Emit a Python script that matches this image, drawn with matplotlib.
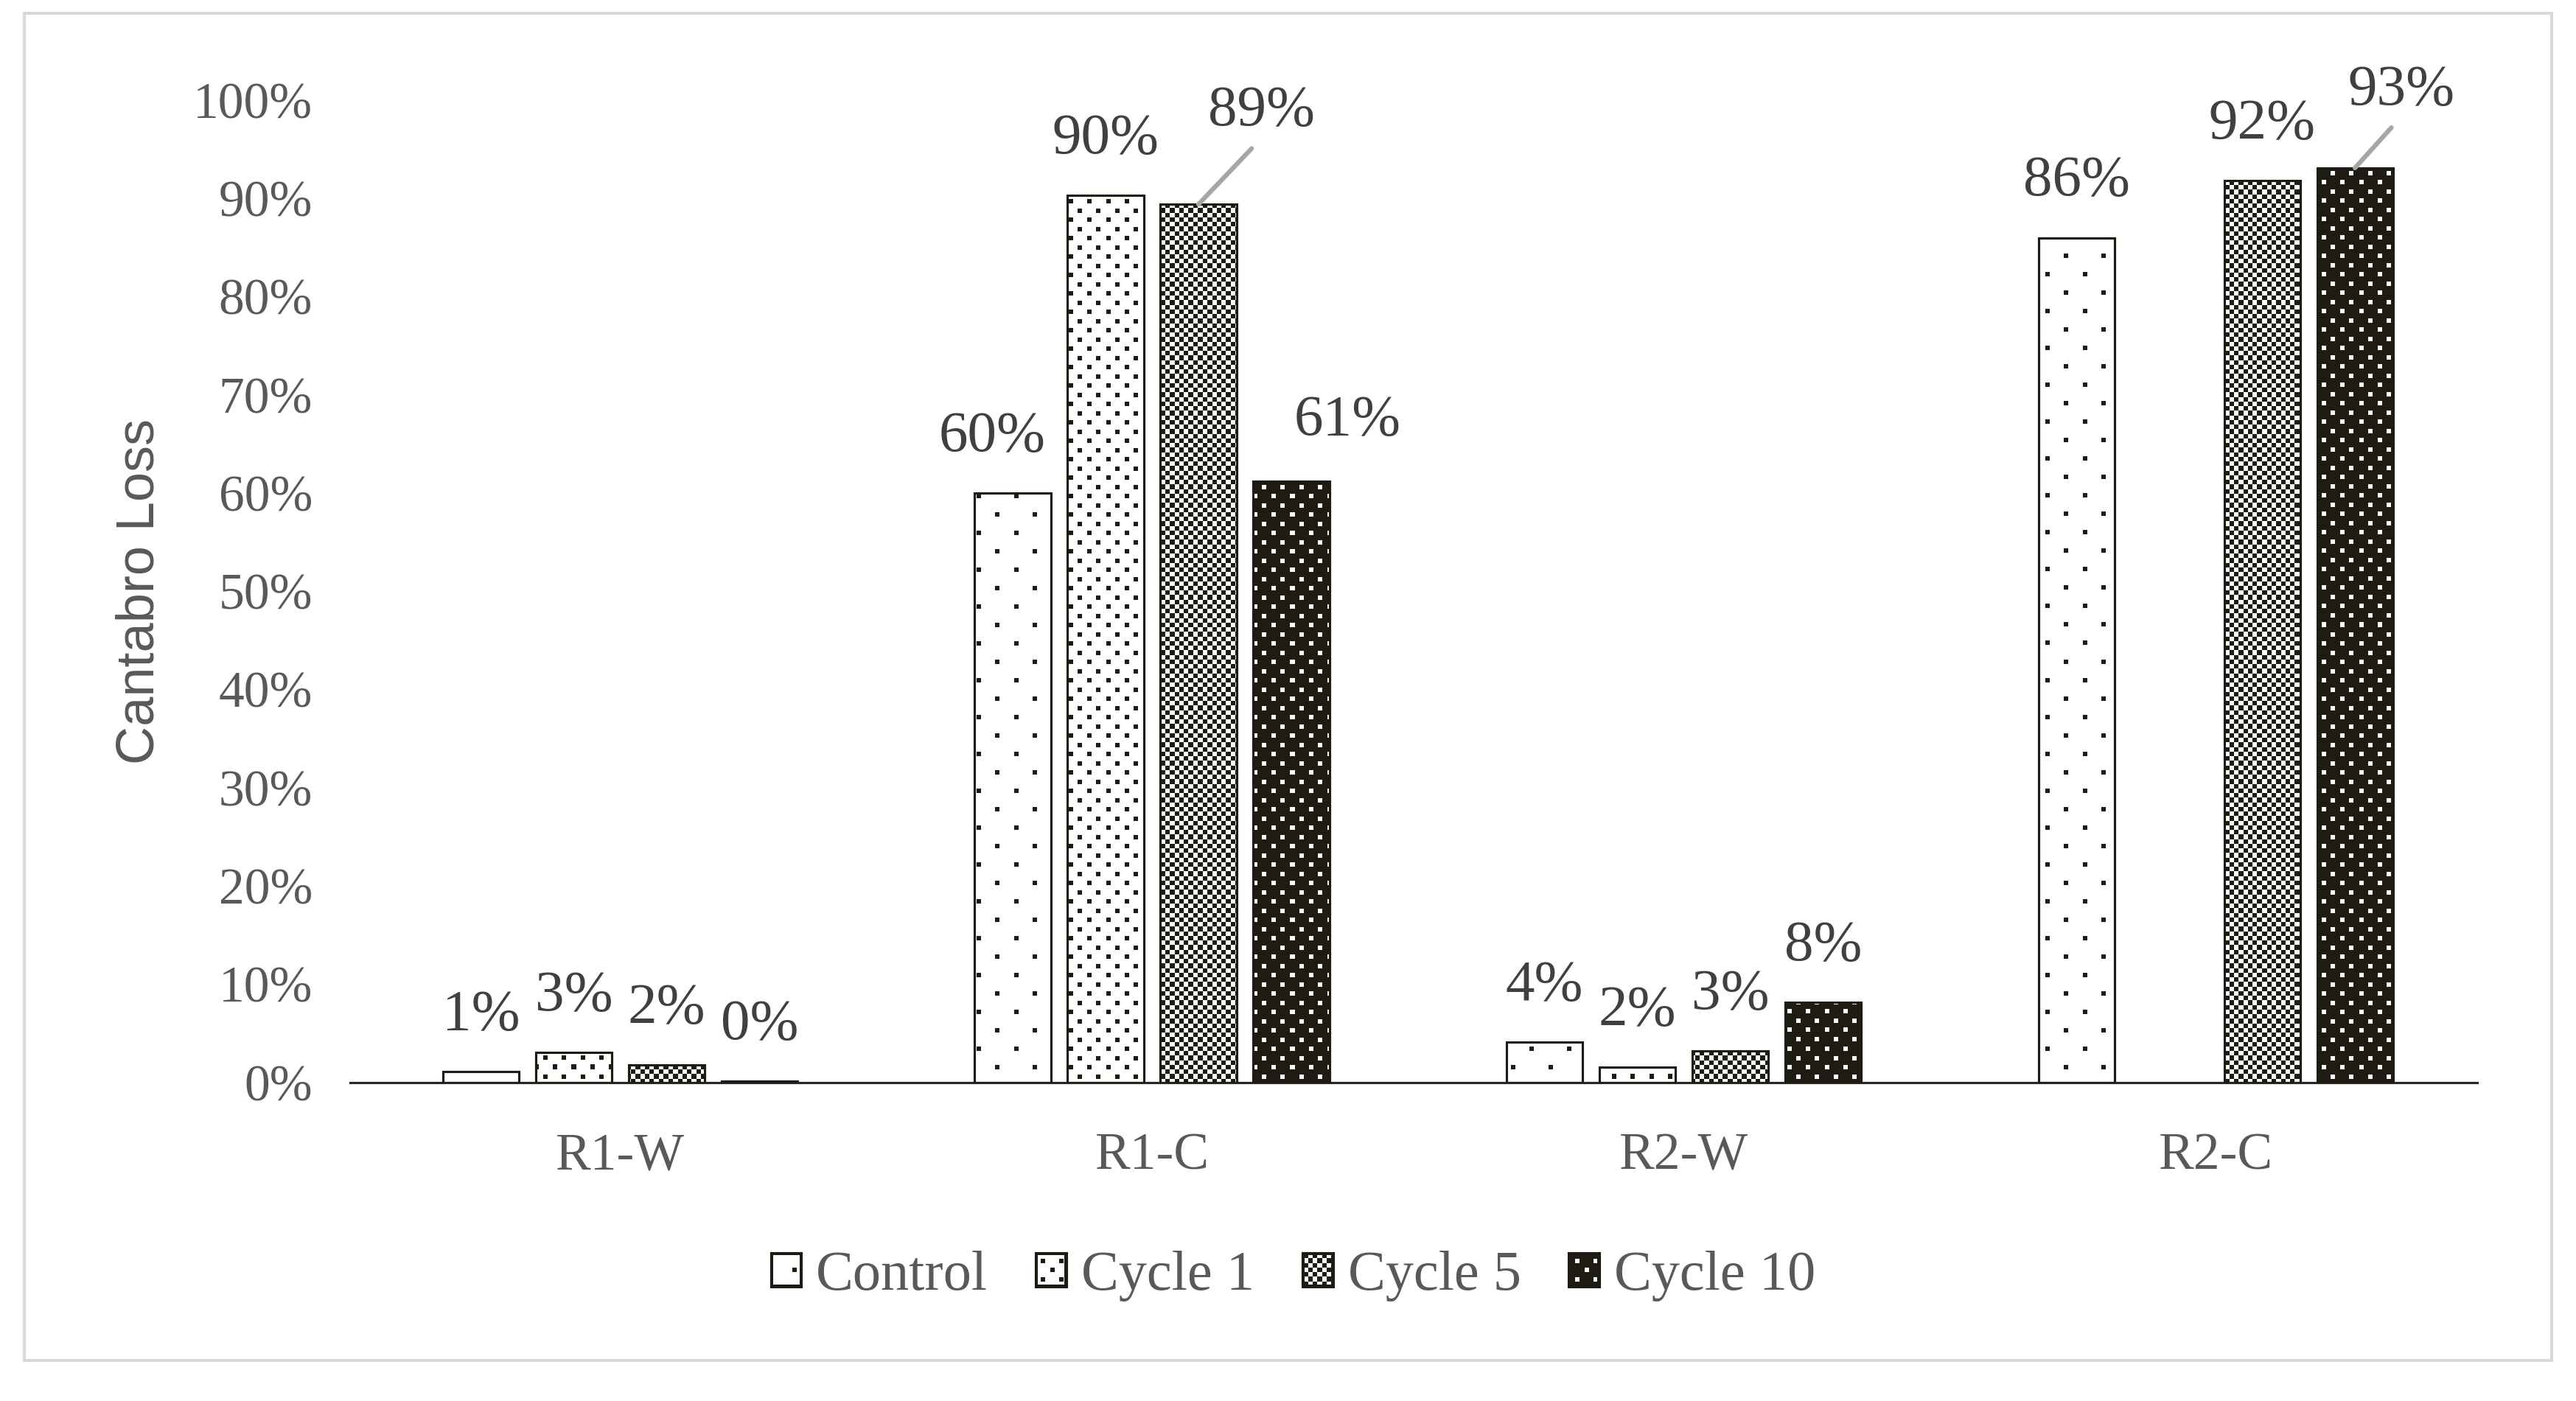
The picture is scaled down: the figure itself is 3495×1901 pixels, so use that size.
import numpy as np
import matplotlib
matplotlib.use('Agg')
import matplotlib.pyplot as plt
from matplotlib.patches import Rectangle
from matplotlib.ticker import PercentFormatter

# Chart data (Cantabro loss, %)
categories = ['R1-W', 'R1-C', 'R2-W', 'R2-C']
series = ['Control', 'Cycle 1', 'Cycle 5', 'Cycle 10']
control = [1.1, 60.0, 4.1, 86.0]
cycle1 = [3.1, 90.3, 1.6, np.nan]
cycle5 = [1.8, 89.4, 3.2, 91.8]
cycle10 = [0.15, 61.2, 8.2, 93.1]
values = [control, cycle1, cycle5, cycle10]
yticks = list(range(0, 101, 10))

# fill pattern for each series
patterns = ['sparse', 'dense', 'checker', 'dense_inv']
DARK = np.array([30, 27, 19], dtype=np.uint8)
WHITE = np.array([255, 255, 255], dtype=np.uint8)

# label offsets in points (dx, dy) for the labels Excel moved by hand
label_offsets = {
    ('Control', 'R1-C'): (-6.7, 18.2),
    ('Cycle 10', 'R1-C'): (18.2, 19.7),
    ('Cycle 5', 'R1-C'): (20.6, 30.2),
    ('Cycle 10', 'R2-C'): (15.0, 25.2),
}
leader_lines = [('Cycle 5', 'R1-C'), ('Cycle 10', 'R2-C')]


def texture(kind, x0, y0, w, h):
    # pixel pattern anchored to the figure pixel grid
    xs = x0 + np.arange(w) + 0.5
    ys = y0 + np.arange(h) + 0.5
    X, Y = np.meshgrid(xs, ys)
    if kind == 'checker':
        on = (np.floor(X / 6.25) + np.floor(Y / 6.25)) % 2 == 0
    else:
        r = 25.0 if kind == 'sparse' else 12.5
        row = np.floor(Y / r)
        on = ((Y - row * r) < 6) & (((X - (row % 2) * r) % (2 * r)) < 6)
    if kind == 'dense_inv':
        fg, bg = WHITE, DARK
    else:
        fg, bg = DARK, WHITE
    img = np.empty((h, w, 3), dtype=np.uint8)
    img[:] = bg
    img[on] = fg
    return img


plt.rcParams['font.family'] = ['Liberation Serif', 'DejaVu Serif']

fig = plt.figure(figsize=(11.65, 1901 / 300), dpi=300)
ax = fig.add_axes([0.1359, 0.2273, 0.8258, 0.7012])
xlim = (-0.508, 3.492)
ax.set_xlim(*xlim)
ax.set_ylim(0, 100)

x = np.arange(len(categories))
step = 0.1746
width = 0.143

bars_all = []
for j, name in enumerate(series):
    pos = x + (j - 1.5) * step
    bars = ax.bar(pos, values[j], width, facecolor='none', edgecolor='#1e1b13',
                  linewidth=0.75, label=name, zorder=3)
    bars_all.append(bars)

# put the pixel textures under the bar outlines
for j, bars in enumerate(bars_all):
    for rect in bars:
        hgt = rect.get_height()
        if not np.isfinite(hgt) or hgt <= 0:
            continue
        bx, bw = rect.get_x(), rect.get_width()
        (px0, py0), (px1, py1) = ax.transData.transform([(bx, 0), (bx + bw, hgt)])
        w = max(int(round(px1 - px0)), 1)
        h = max(int(round(py1 - py0)), 1)
        img = texture(patterns[j], int(round(px0)), int(round(py0)), w, h)
        ax.imshow(img, extent=(bx, bx + bw, 0, hgt), origin='lower',
                  aspect='auto', interpolation='nearest', zorder=2)

# data labels
for j, name in enumerate(series):
    for i, cat in enumerate(categories):
        v = values[j][i]
        if not np.isfinite(v):
            continue
        xpos = x[i] + (j - 1.5) * step
        dx, dy = label_offsets.get((name, cat), (0, 18.2))
        kw = {}
        if (name, cat) in leader_lines:
            kw['arrowprops'] = dict(arrowstyle='-', color='#a6a6a6', lw=1.5,
                                    shrinkA=2, shrinkB=0, relpos=(0.5, 0))
        ax.annotate(f'{v:.0f}%', xy=(xpos, v), xytext=(dx, dy),
                    textcoords='offset points', ha='center', va='center',
                    fontsize=19, color='#404040', annotation_clip=False, **kw)

ax.set_xlim(*xlim)
ax.set_ylim(0, 100)
ax.set_xticks(x)
ax.set_xticklabels(categories)
ax.set_yticks(yticks)
ax.yaxis.set_major_formatter(PercentFormatter(xmax=100, decimals=0))
ax.tick_params(axis='y', length=0, pad=12.2, labelsize=16.7, labelcolor='#595959')
ax.tick_params(axis='x', length=0, pad=16.3, labelsize=17.2, labelcolor='#595959')

for side in ['top', 'right', 'left']:
    ax.spines[side].set_visible(False)
ax.spines['bottom'].set_color('#262626')
ax.spines['bottom'].set_linewidth(0.75)

ax.set_ylabel('Cantabro Loss', family='Liberation Sans', fontsize=17.3,
              color='#595959', va='center')
ax.yaxis.set_label_coords(-0.0988, 0.5)

leg = fig.legend(loc='center', bbox_to_anchor=(0.502, 0.0891), ncol=4,
                 frameon=False, fontsize=18.3, handlelength=0.55,
                 handleheight=0.55, handletextpad=0.26, columnspacing=0.85,
                 labelcolor='#595959')

# light grey chart border
fig.patches.append(Rectangle((0.0094, 0.0289), 0.9812, 0.9616,
                             transform=fig.transFigure, fill=False,
                             edgecolor='#d9d9d9', linewidth=1.0))

# textures for the legend keys, placed once the layout is known
fig.canvas.draw()
for j, handle in enumerate(leg.legend_handles):
    bb = handle.get_window_extent()
    x0, y0 = int(round(bb.x0)), int(round(bb.y0))
    w, h = int(round(bb.width)), int(round(bb.height))
    img = texture(patterns[j], x0, y0, w, h)
    img[:3, :] = DARK
    img[-3:, :] = DARK
    img[:, :3] = DARK
    img[:, -3:] = DARK
    fig.figimage(img, xo=x0, yo=y0, origin='lower', zorder=5)

fig.savefig('out.png', dpi=300)
